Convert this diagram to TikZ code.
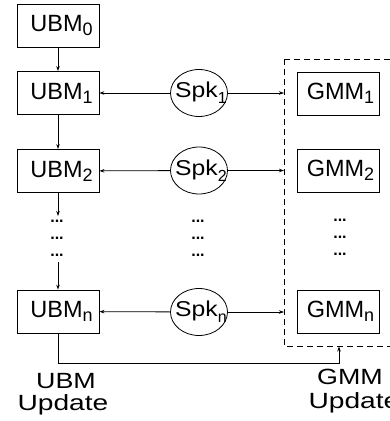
\documentclass[tikz,border=0pt]{standalone}
\usepackage{fontspec}
\usepackage{graphicx}
\setmainfont{Liberation Sans}
\usetikzlibrary{arrows.meta,shapes.geometric}
\newcommand\sbx[1]{\raisebox{-4pt}{\fontsize{18}{18}\selectfont #1}}
\newcommand\sbk[1]{\raisebox{-6pt}{\fontsize{16}{16}\selectfont #1}}
\tikzset{
  box/.style={draw, line width=0.8pt, minimum width=82pt, minimum height=43pt, inner sep=0pt,
    font=\fontsize{23.5}{28}\selectfont},
  spk/.style={draw, ellipse, line width=0.8pt, minimum width=57pt, minimum height=47pt, inner sep=0pt},
  spktext/.style={inner sep=0pt, font=\fontsize{21.5}{24}\selectfont},
  dots/.style={inner sep=0pt, font=\fontsize{16}{16}\selectfont\bfseries},
  lab/.style={inner sep=0pt, anchor=base, font=\fontsize{22}{22}\selectfont},
  conn/.style={line width=0.8pt, -{Stealth[length=5pt,width=3.5pt]}},
  plain/.style={line width=0.8pt}
}
\begin{document}
\begin{tikzpicture}[x=1pt,y=-1pt]
\useasboundingbox (0,0) rectangle (390,421);
\clip (0,0) rectangle (390,421);
\fill[white] (0,0) rectangle (390,421);
% UBM column
\node[box] (u0) at (58,25.5) {\hspace*{7pt}UBM\sbx{0}};
\node[box] (u1) at (58,93) {\hspace*{7pt}UBM\sbx{1}};
\node[box] (u2) at (58,171) {\hspace*{7pt}UBM\sbx{2}};
\node[box] (un) at (58,311.5) {\hspace*{7pt}UBM\sbx{n}};
% Spk column
\node[spk] (s1) at (199,93) {};
\node[spk] (s2) at (199,170.5) {};
\node[spk] (sn) at (199,312) {};
\node[spktext] (t1) at (201,93) {\scalebox{1.15}[1]{Spk}\sbk{1}};
\node[spktext] (t2) at (201,170.5) {\scalebox{1.15}[1]{Spk}\sbk{2}};
\node[spktext] (tn) at (201,312) {\scalebox{1.15}[1]{Spk}\sbk{n}};
% GMM column
\node[box] (g1) at (338,93.5) {\hspace*{5pt}GMM\sbx{1}};
\node[box] (g2) at (338,170.5) {\hspace*{5pt}GMM\sbx{2}};
\node[box] (gn) at (338,311.5) {\hspace*{5pt}GMM\sbx{n}};
% dots
\foreach \r/\y in {a/220,b/237,c/254}{
  \node[dots] (dl\r) at (57,\y+1) {...};
  \node[dots] (dm\r) at (198,\y+1) {...};
  \node[dots] (dr\r) at (340,\y) {...};
}
% dashed box
\coordinate (dbtl) at (284,59);
\coordinate (dbbr) at (400,346);
\draw[plain, dash pattern=on 6pt off 4pt] (dbtl) rectangle (dbbr);
\coordinate (e1) at (284,93);
\coordinate (e2) at (284,170.5);
\coordinate (en) at (284,312);
% vertical arrows
\draw[conn] (u0) -- (u1);
\draw[conn] (u1) -- (u2);
\coordinate (a1) at (58,216);
\coordinate (a2) at (58,262);
\draw[conn] (u2.south) -- (a1);
\draw[conn] (a2) -- (un.north);
% horizontal arrows
\draw[conn] (s1) -- (u1);
\draw[conn] (s2) -- (u2);
\draw[conn] (sn) -- (un);
\draw[conn] (s1) -- (e1);
\draw[conn] (s2) -- (e2);
\draw[conn] (sn) -- (en);
% feedback
\coordinate (f1) at (58,363);
\coordinate (f2) at (339,363);
\coordinate (f3) at (339,346.5);
\draw[conn] (un.south) -- (f1) -- (f2) -- (f3);
% labels
\node[lab] (l1) at (66,388) {\scalebox{1.22}[1]{UBM}};
\node[lab] (l2) at (63,410) {\scalebox{1.28}[1]{Update}};
\node[lab] (l3) at (350,384) {\scalebox{1.22}[1]{GMM}};
\node[lab] (l4) at (354,408) {\scalebox{1.28}[1]{Update}};
\end{tikzpicture}
\end{document}
